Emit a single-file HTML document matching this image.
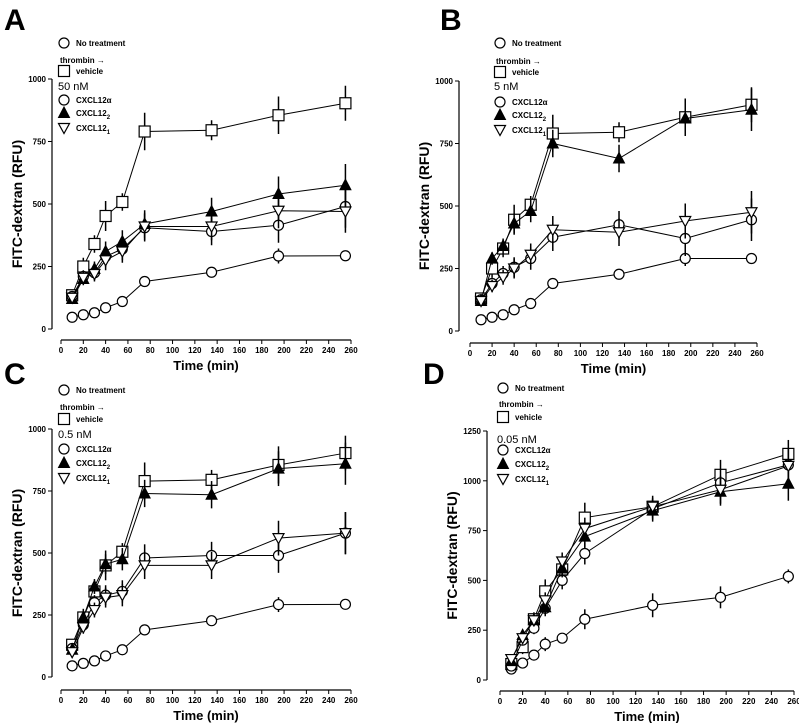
<!DOCTYPE html>
<html><head><meta charset="utf-8"><style>
body{margin:0;background:#fff;width:799px;height:723px;overflow:hidden}
svg{font-family:"Liberation Sans",sans-serif}
</style></head><body>
<svg id="c" width="799" height="723" viewBox="0 0 799 723"></svg>
<script>
const times=[10,20,30,40,55,75,135,195,255];
const xTicks=[0,20,40,60,80,100,120,140,160,180,200,220,240,260];
const A_none=[47,57,65,85,110,190,227,292,293];
const A_veh=[135,250,340,452,508,790,795,855,903];
const A_alpha=[130,210,225,290,320,405,390,415,490];
const A_c2=[120,200,240,310,350,420,470,540,575];
const A_c1=[125,205,220,275,310,410,410,473,470];
const B_none=[45,55,65,85,110,190,227,290,290];
const B_veh=[130,250,330,445,505,790,795,855,905];
const B_alpha=[125,190,230,255,290,375,425,370,445];
const B_c2=[120,290,340,430,480,750,690,850,885];
const B_c1=[120,180,215,250,305,405,395,440,475];
const C_none=[45,55,65,85,110,190,227,292,293];
const C_veh=[130,240,345,450,505,790,795,855,903];
const C_alpha=[115,210,300,330,345,480,490,490,580];
const C_c2=[110,240,365,455,475,740,735,840,860];
const C_c1=[100,200,270,320,330,450,450,560,580];
const D_none=[55,85,125,180,210,305,375,415,520];
const D_veh=[80,165,305,445,555,815,870,1030,1135];
const D_alpha=[70,200,260,360,500,635,860,990,1080];
const D_c2=[95,225,300,365,560,720,850,945,985];
const D_c1=[105,210,300,400,595,760,870,955,1075];
const errNone=[8,8,10,12,12,15,20,30,20];
const errNoneD=[10,12,15,35,20,50,60,55,35];
const errVeh=[15,35,35,60,35,75,40,75,70];
const errTrt=[15,25,30,40,45,55,55,70,85];
const ticksA=[0,250,500,750,1000];
const ticksD=[0,250,500,750,1000,1250];

const S=document.getElementById('c');const NS='http://www.w3.org/2000/svg';
function mk(t,a,p){const e=document.createElementNS(NS,t);for(const k in a)e.setAttribute(k,a[k]);(p||S).appendChild(e);return e;}
function marker(g,type,x,y){
 let e;
 if(type==='circle')e=mk('circle',{cx:x,cy:y,r:5,fill:'#fff',stroke:'#000','stroke-width':1.2},g);
 else if(type==='square')e=mk('rect',{x:x-5.5,y:y-5.5,width:11,height:11,fill:'#fff',stroke:'#000','stroke-width':1.2},g);
 else if(type==='tri')e=mk('polygon',{points:`${x},${y-6} ${x-5.5},${y+4.5} ${x+5.5},${y+4.5}`,fill:'#000',stroke:'#000'},g);
 else e=mk('polygon',{points:`${x-5.5},${y-4.5} ${x+5.5},${y-4.5} ${x},${y+5.5}`,fill:'#fff',stroke:'#000','stroke-width':1.2},g);
 return e;
}
function panel(P){
 const g=mk('g',{});
 
 
 const sx=v=>P.x0+(v/260)*(P.x1-P.x0);
 const sy=v=>P.y0-(v/P.ymax)*(P.y0-P.yTop);
 const lab=mk('text',{x:P.lx,y:P.ly,'font-size':30,'font-weight':'bold'},g);lab.textContent=P.id;
 
 const ya=mk('line',{x1:P.ax,x2:P.ax,y1:sy(P.ymax),y2:sy(0),stroke:'#000','stroke-width':1.2},g);
 
 P.yt.forEach(v=>{mk('line',{x1:P.ax-4,x2:P.ax,y1:sy(v),y2:sy(v),stroke:'#000'},g);
  const t=mk('text',{x:P.ax-6,y:sy(v)+3,'font-size':8,'font-weight':'bold','text-anchor':'end'},g);t.textContent=v;
  });
 const yt=mk('text',{x:0,y:0,'font-size':14,'font-weight':'bold','text-anchor':'middle',transform:`translate(${P.ax-30},${(sy(0)+sy(P.ymax))/2}) rotate(-90)`},g);
 yt.textContent='FITC-dextran (RFU)';
 const xa=mk('line',{x1:sx(0),x2:sx(260),y1:P.xay,y2:P.xay,stroke:'#000','stroke-width':1.2},g);
 
 xTicks.forEach(v=>{mk('line',{x1:sx(v),x2:sx(v),y1:P.xay,y2:P.xay+4,stroke:'#000'},g);
  const t=mk('text',{x:sx(v),y:P.xay+13,'font-size':8,'font-weight':'bold','text-anchor':'middle'},g);t.textContent=v;
  });
 const xt=mk('text',{x:(sx(0)+sx(260))/2,y:P.xay+30,'font-size':13,'font-weight':'bold','text-anchor':'middle'},g);
 xt.textContent='Time (min)';
 P.series.forEach(s=>{
  const sg=mk('g',{},g);
  
  
  const pts=s.v.map((v,i)=>sx(times[i])+','+sy(v)).join(' ');
  mk('polyline',{points:pts,fill:'none',stroke:'#000','stroke-width':1},sg);
  s.v.forEach((v,i)=>{const e=s.e[i];mk('line',{x1:sx(times[i]),x2:sx(times[i]),y1:sy(v-e),y2:sy(v+e),stroke:'#000','stroke-width':1.5},sg);});
  s.v.forEach((v,i)=>{const m=marker(sg,s.type,sx(times[i]),sy(v));
   });
 });
 const L=P.leg;const lg=mk('g',{},g);
 
 const ent=(type,y,txt,sub)=>{marker(lg,type,L.x,y);const t=mk('text',{x:L.x+12,y:y+3,'font-size':8,'font-weight':'bold'},lg);t.textContent=txt;
  if(sub){const s2=mk('tspan',{'font-size':6,dy:3},t);s2.textContent=sub;}
  };
 ent('circle',L.y[0],'No treatment');
 let t=mk('text',{x:L.x-4,y:L.y[1]+3,'font-size':8,'font-weight':'bold'},lg);t.textContent='thrombin →';
 ent('square',L.y[2],'vehicle');
 t=mk('text',{x:L.x-6,y:L.y[3]+4,'font-size':11},lg);t.textContent=P.conc;
 ent('circle',L.y[4],'CXCL12α');ent('tri',L.y[5],'CXCL12','2');ent('inv',L.y[6],'CXCL12','1');
}
function ser(n,v,a,c2,c1,en){return[
 {name:'no-treatment',type:'circle',v:n,e:en||errNone},
 {name:'vehicle',type:'square',v:v,e:errVeh},
 {name:'cxcl12-alpha',type:'circle',v:a,e:errTrt},
 {name:'cxcl12-2',type:'tri',v:c2,e:errTrt},
 {name:'cxcl12-1',type:'inv',v:c1,e:errTrt}];}
panel({id:'A',lx:4,ly:30,ax:52,x0:61,x1:351,y0:329,yTop:79,ymax:1000,yt:ticksA,xay:340,conc:'50 nM',
 leg:{x:64,y:[43,60,71,86,100,113,128]},series:ser(A_none,A_veh,A_alpha,A_c2,A_c1)});
panel({id:'B',lx:440,ly:30,ax:459,x0:470,x1:757,y0:331,yTop:81,ymax:1000,yt:ticksA,xay:343,conc:'5 nM',
 leg:{x:500,y:[43,61,72,86,102,115,130]},series:ser(B_none,B_veh,B_alpha,B_c2,B_c1)});
panel({id:'C',lx:4,ly:384,ax:52,x0:61,x1:351,y0:677,yTop:429,ymax:1000,yt:ticksA,xay:690,conc:'0.5 nM',
 leg:{x:64,y:[390,407,419,434,449,463,478]},series:ser(C_none,C_veh,C_alpha,C_c2,C_c1)});
panel({id:'D',lx:423,ly:384,ax:487,x0:500,x1:794,y0:680,yTop:431,ymax:1250,yt:ticksD,xay:691,conc:'0.05 nM',
 leg:{x:503,y:[388,404,417,439,450,464,479]},series:ser(D_none,D_veh,D_alpha,D_c2,D_c1,errNoneD)});
</script>
</body></html>
